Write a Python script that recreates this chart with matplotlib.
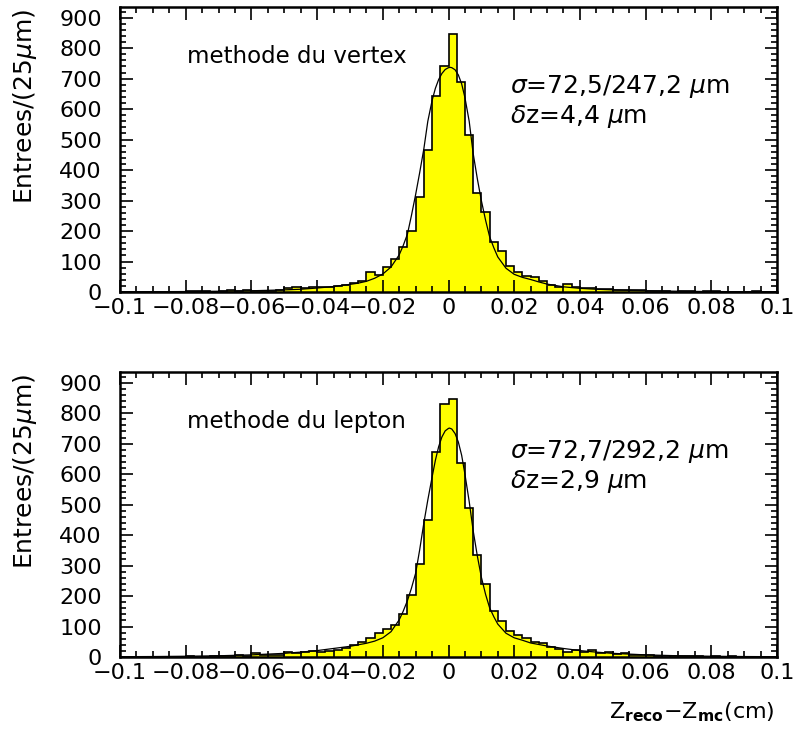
import numpy as np
import matplotlib
matplotlib.use("Agg")
import matplotlib.pyplot as plt
from matplotlib.ticker import MultipleLocator, FixedLocator, FixedFormatter

# --- binning: 25 um bins from -0.1 to 0.1 cm ---
bin_edges = np.linspace(-0.1, 0.1, 81)

# --- methode du vertex (top panel) ---
vertex_counts = [
    0, 1, 0, 0, 1, 1, 0, 1, 2, 3,
    4, 1, 2, 6, 3, 5, 4, 3, 3, 8,
    13, 15, 13, 17, 15, 17, 20, 23, 28, 35,
    66, 56, 83, 107, 149, 201, 313, 466, 642, 743,
    845, 689, 516, 324, 262, 165, 133, 86, 66, 53,
    49, 36, 24, 17, 26, 17, 13, 12, 11, 9,
    7, 8, 5, 8, 3, 2, 3, 1, 3, 2,
    1, 2, 3, 1, 1, 0, 1, 2, 0, 1,
]
vertex_fit_x = [
    -0.100, -0.090, -0.080, -0.070, -0.060, -0.050, -0.045, -0.040, -0.035, -0.030,
    -0.0275, -0.025, -0.0225, -0.020, -0.0175, -0.015, -0.0138, -0.0125, -0.0113, -0.010,
    -0.0088, -0.0075, -0.0063, -0.005, -0.004, -0.003, -0.002, -0.001, 0.0, 0.0005,
    0.001, 0.002, 0.003, 0.004, 0.005, 0.0063, 0.0075, 0.0088, 0.010, 0.0113,
    0.0125, 0.0138, 0.015, 0.0175, 0.020, 0.0225, 0.025, 0.0275, 0.030, 0.035,
    0.040, 0.045, 0.050, 0.060, 0.070, 0.080, 0.090, 0.100,
]
vertex_fit_y = [
    0.5, 1, 1.5, 2.5, 4, 7, 9, 13, 18, 25,
    29, 35, 45, 59, 82, 122, 152, 190, 250, 320,
    390, 470, 560, 628, 668, 697, 717, 730, 736, 737,
    736, 729, 712, 683, 638, 560, 455, 370, 300, 235,
    182, 145, 115, 78, 58, 48, 41, 33, 26, 17,
    12, 9, 7, 4, 2.5, 1.5, 1, 0.5,
]

# --- methode du lepton (bottom panel) ---
lepton_counts = [
    0, 1, 0, 1, 0, 1, 1, 0, 2, 1,
    1, 2, 3, 2, 5, 2, 13, 5, 5, 6,
    15, 13, 15, 21, 15, 21, 24, 30, 38, 50,
    63, 80, 93, 105, 142, 202, 306, 449, 673, 830,
    845, 636, 490, 336, 240, 152, 119, 85, 72, 61,
    48, 45, 34, 26, 18, 22, 16, 23, 14, 15,
    10, 14, 5, 8, 7, 3, 1, 2, 4, 2,
    2, 1, 2, 1, 3, 1, 1, 0, 1, 1,
]
lepton_fit_x = [
    -0.100, -0.090, -0.080, -0.070, -0.060, -0.050, -0.045, -0.040, -0.035, -0.030,
    -0.025, -0.0225, -0.020, -0.0175, -0.015, -0.0138, -0.0125, -0.0113, -0.010, -0.0088,
    -0.0075, -0.0063, -0.005, -0.004, -0.003, -0.002, -0.001, 0.0, 0.0003, 0.001,
    0.002, 0.003, 0.004, 0.005, 0.0063, 0.0075, 0.0088, 0.010, 0.0113, 0.0125,
    0.0138, 0.015, 0.0175, 0.020, 0.0225, 0.025, 0.030, 0.035, 0.040, 0.045,
    0.050, 0.060, 0.070, 0.080, 0.090, 0.100,
]
lepton_fit_y = [
    1, 1.5, 2.5, 4, 7, 12, 16, 21, 28, 35,
    45, 52, 63, 83, 122, 150, 185, 225, 275, 350,
    440, 515, 590, 645, 690, 722, 742, 750, 751, 748,
    733, 705, 662, 600, 510, 415, 330, 262, 205, 162,
    132, 108, 78, 63, 55, 46, 36, 28, 21, 16,
    12, 7, 4, 2.5, 1.5, 1,
]

x_tick_pos = [-0.1, -0.08, -0.06, -0.04, -0.02, 0.0, 0.02, 0.04, 0.06, 0.08, 0.1]
x_tick_labels = ["\u22120.1", "\u22120.08", "\u22120.06", "\u22120.04", "\u22120.02",
                 "0", "0.02", "0.04", "0.06", "0.08", "0.1"]

panels = [
    dict(counts=vertex_counts, fx=vertex_fit_x, fy=vertex_fit_y,
         title="methode du vertex",
         line1=r"$\sigma$=72,5/247,2 $\mu$m", line2=r"$\delta$z=4,4 $\mu$m"),
    dict(counts=lepton_counts, fx=lepton_fit_x, fy=lepton_fit_y,
         title="methode du lepton",
         line1=r"$\sigma$=72,7/292,2 $\mu$m", line2=r"$\delta$z=2,9 $\mu$m"),
]

W, H = 793, 731
fig = plt.figure(figsize=(W / 100, H / 100), dpi=100)
plt.rcParams["mathtext.fontset"] = "dejavusans"

ax_left = 120 / W
ax_width = 657 / W
ax_height = 285 / H
ax_bottoms = [1 - 292 / H, 1 - 657 / H]

for p, bottom in zip(panels, ax_bottoms):
    ax = fig.add_axes([ax_left, bottom, ax_width, ax_height])
    ax.stairs(p["counts"], bin_edges, fill=True, color="#ffff00", lw=0)
    ax.stairs(p["counts"], bin_edges, color="black", lw=1.2)
    ax.plot(p["fx"], p["fy"], color="black", lw=0.9)

    ax.set_xlim(-0.1, 0.1)
    ax.set_ylim(0, 935)
    ax.xaxis.set_major_locator(FixedLocator(x_tick_pos))
    ax.xaxis.set_major_formatter(FixedFormatter(x_tick_labels))
    ax.xaxis.set_minor_locator(MultipleLocator(0.005))
    ax.yaxis.set_major_locator(MultipleLocator(100))
    ax.yaxis.set_minor_locator(MultipleLocator(20))
    ax.tick_params(which="both", direction="in", top=True, right=True,
                   width=1.2, labelsize=16)
    ax.tick_params(which="major", length=9)
    ax.tick_params(which="minor", length=4.5)
    ax.tick_params(axis="x", pad=4)
    ax.tick_params(axis="y", pad=13)
    for s in ax.spines.values():
        s.set_linewidth(1.8)
    ax.set_axisbelow(False)

    ax.text(-0.0796, 772, p["title"], fontsize=16.5, ha="left", va="center")
    ax.text(0.0187, 673, p["line1"], fontsize=18, ha="left", va="center")
    ax.text(0.0187, 575, p["line2"], fontsize=18, ha="left", va="center")

    top_px = H - (bottom + ax_height) * H
    fig.text(25 / W, 1 - (top_px + 2) / H, r"Entrees/(25$\mu$m)",
             rotation=90, fontsize=18, ha="center", va="top")

fig.text(775 / W, 1 - 712 / H, r"Z$_{\mathbf{reco}}$$-$Z$_{\mathbf{mc}}$(cm)",
         fontsize=16, ha="right", va="center")

fig.savefig("out.png", dpi=100)
